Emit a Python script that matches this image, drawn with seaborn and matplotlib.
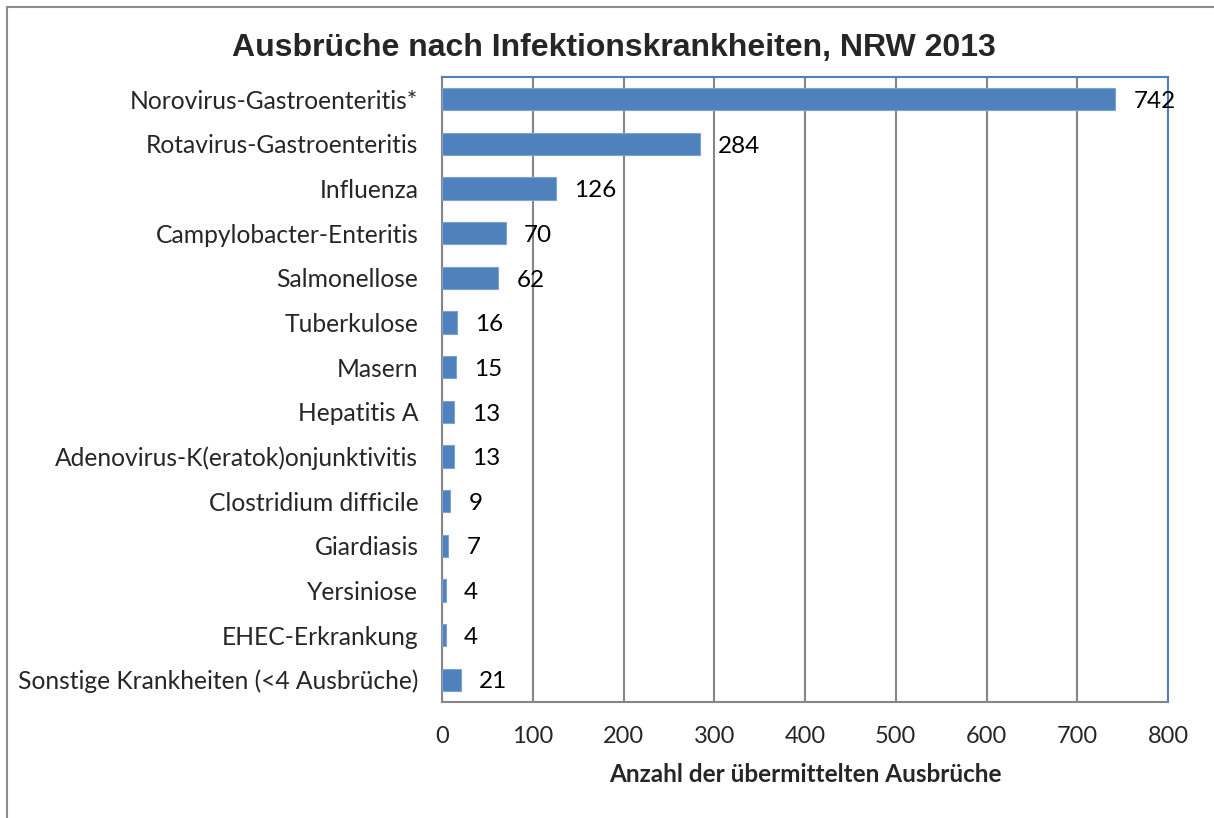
import numpy as np
import pandas as pd
import seaborn as sns
import matplotlib.pyplot as plt
from matplotlib.patches import Rectangle

categories = ["Norovirus-Gastroenteritis*", "Rotavirus-Gastroenteritis", "Influenza",
              "Campylobacter-Enteritis", "Salmonellose", "Tuberkulose", "Masern",
              "Hepatitis A", "Adenovirus-K(eratok)onjunktivitis", "Clostridium difficile",
              "Giardiasis", "Yersiniose", "EHEC-Erkrankung", "Sonstige Krankheiten (<4 Ausbrüche)"]
counts = [742, 284, 126, 70, 62, 16, 15, 13, 13, 9, 7, 4, 4, 21]
x_ticks = [0, 100, 200, 300, 400, 500, 600, 700, 800]

df = pd.DataFrame({"Krankheit": categories, "Anzahl": counts})

sns.set_style("white")
plt.rcParams['font.family'] = ['Lato', 'DejaVu Sans']

bar_color = "#4F81BD"
grid_color = "#868686"

fig = plt.figure(figsize=(12.14, 8.18), dpi=100)
ax = fig.add_axes([442 / 1214, 1 - 702 / 818, (1168 - 442) / 1214, (702 - 77) / 818])

sns.barplot(data=df, x="Anzahl", y="Krankheit", orient="h", color=bar_color,
            width=0.5, saturation=1, edgecolor="#7FA3D3", linewidth=0.8, ax=ax, zorder=3)

ax.set_xlim(0, 800)
ax.set_ylim(len(categories) - 0.5, -0.5)
ax.set_xticks(x_ticks)
ax.set_xticklabels([str(t) for t in x_ticks], fontsize=17)
ax.tick_params(axis="x", length=7, width=1.5, color=grid_color, pad=10, direction="out")
ax.tick_params(axis="y", which="major", length=0, pad=17, labelsize=17.7)
ax.set_yticks(np.arange(-0.5, len(categories), 1.0), minor=True)
ax.tick_params(axis="y", which="minor", length=7, width=1.5, color=grid_color, direction="out")
ax.xaxis.grid(True, color=grid_color, linewidth=1.5, zorder=0)
ax.set_axisbelow(True)

for side in ["left", "bottom"]:
    ax.spines[side].set_color(grid_color)
    ax.spines[side].set_linewidth(1.5)
for side in ["top", "right"]:
    ax.spines[side].set_color(bar_color)
    ax.spines[side].set_linewidth(1.5)

for i, v in enumerate(counts):
    ax.text(v + 20, i + 0.05, str(v), va="center", ha="left", fontsize=17.5, color="black", zorder=4)

ax.set_ylabel("")
ax.set_xlabel("Anzahl der übermittelten Ausbrüche", fontsize=17.5, fontweight="bold", labelpad=12)

fig.text(614 / 1214, 1 - 48 / 818, "Ausbrüche nach Infektionskrankheiten, NRW 2013",
         ha="center", va="center", fontsize=23, fontweight="bold",
         family=["Liberation Sans", "DejaVu Sans"])

fig.patches.append(Rectangle((7 / 1214, -0.05), 1.1, 1 - 7 / 818 + 0.05,
                             transform=fig.transFigure, fill=False,
                             edgecolor="#8C8C8C", linewidth=1.5))

fig.savefig("out.png", dpi=100, facecolor="white")
